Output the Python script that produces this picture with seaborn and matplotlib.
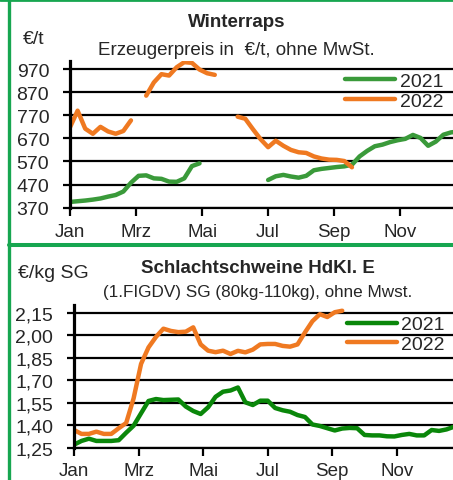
import numpy as np
import pandas as pd
import seaborn as sns
import matplotlib.pyplot as plt
from matplotlib.lines import Line2D

nan = np.nan

# Kalenderwochen, 0 = Anfang Januar
weeks = np.arange(52)
month_labels = ['Jan', 'Mrz', 'Mai', 'Jul', 'Sep', 'Nov']
years = ['2021', '2022']

# Winterraps, Erzeugerpreis in EUR/t
raps_2021 = [395, 398, 401, 405, 410, 418, 425, 440, 478, 508,
             510, 497, 495, 483, 482, 497, 550, 562, nan, nan,
             nan, nan, nan, nan, nan, nan, 490, 506, 512, 505,
             500, 508, 532, 538, 542, 546, 549, 556, 592, 616,
             636, 643, 654, 662, 668, 685, 672, 638, 656, 686,
             696, 700]
raps_2022 = [718, 790, 712, 690, 720, 700, 690, 702, 748, nan,
             855, 912, 948, 942, 978, 1000, 997, 968, 952, 945,
             nan, nan, 764, 755, 710, 667, 632, 660, 638, 620,
             610, 607, 592, 583, 578, 577, 572, 545, nan, nan,
             nan, nan, nan, nan, nan, nan, nan, nan, nan, nan,
             nan, nan]
raps_ticks = [370, 470, 570, 670, 770, 870, 970]

# Schlachtschweine HdKl. E, EUR/kg SG
schwein_2021 = [1.27, 1.295, 1.31, 1.295, 1.295, 1.295, 1.30, 1.35, 1.397, 1.48,
                1.562, 1.575, 1.568, 1.57, 1.572, 1.525, 1.495, 1.475, 1.52, 1.59,
                1.624, 1.632, 1.652, 1.553, 1.535, 1.564, 1.564, 1.515, 1.50, 1.49,
                1.468, 1.455, 1.405, 1.395, 1.38, 1.365, 1.378, 1.382, 1.38, 1.335,
                1.332, 1.332, 1.326, 1.325, 1.335, 1.342, 1.332, 1.332, 1.368, 1.362,
                1.372, 1.39]
schwein_2022 = [1.368, 1.342, 1.342, 1.357, 1.342, 1.342, 1.38, 1.415, 1.58, 1.81,
                1.92, 1.99, 2.045, 2.03, 2.022, 2.025, 2.054, 1.94, 1.898, 1.888,
                1.898, 1.876, 1.897, 1.887, 1.905, 1.94, 1.943, 1.943, 1.93, 1.925,
                1.94, 2.02, 2.095, 2.142, 2.123, 2.155, 2.165, nan, nan, nan,
                nan, nan, nan, nan, nan, nan, nan, nan, nan, nan,
                nan, nan]
schwein_ticks = [1.25, 1.40, 1.55, 1.70, 1.85, 2.00, 2.15]
schwein_ticklabels = ['1,25', '1,40', '1,55', '1,70', '1,85', '2,00', '2,15']

orange = '#EF7921'
border = '#17A650'


def long_df(s21, s22):
    frames = []
    for year, vals in zip(years, (s21, s22)):
        df = pd.DataFrame({'KW': weeks, 'Preis': vals, 'Jahr': year})
        df['seg'] = df['Preis'].isna().cumsum()
        df = df.dropna()
        df['seg'] = year + '_' + df['seg'].astype(str)
        frames.append(df)
    return pd.concat(frames, ignore_index=True)


def draw_panel(ax, df, pal, ticks, ticklabels, ylim, xmax, xpad, leg_xy):
    sns.lineplot(data=df, x='KW', y='Preis', hue='Jahr', units='seg',
                 estimator=None, palette=pal, linewidth=3.2, legend=False,
                 solid_capstyle='round', solid_joinstyle='round', ax=ax)
    ax.set_xlim(0, xmax)
    ax.set_ylim(*ylim)
    ax.set_yticks(ticks)
    ax.set_yticklabels(ticklabels)
    ax.set_xticks(np.arange(0, 12, 2) * 52 / 12)
    ax.set_xticklabels(month_labels)
    ax.set_xlabel('')
    ax.set_ylabel('')
    ax.grid(axis='y', color='black', linewidth=1.6)
    ax.grid(axis='x', visible=False)
    ax.set_axisbelow(True)
    for side in ['top', 'right']:
        ax.spines[side].set_visible(False)
    ax.spines['left'].set_color('black')
    ax.spines['left'].set_linewidth(2.3)
    ax.spines['bottom'].set_color('black')
    ax.spines['bottom'].set_linewidth(1.6)
    ax.tick_params(axis='y', direction='out', length=5, width=1.6,
                   color='black', labelsize=14, pad=10, left=True)
    ax.tick_params(axis='x', direction='out', length=6, width=1.6,
                   color='black', labelsize=13.5, pad=xpad, bottom=True)
    handles = [Line2D([], [], color=pal[y], linewidth=3.2,
                      solid_capstyle='round') for y in years]
    ax.legend(handles, years, loc='center left', bbox_to_anchor=leg_xy,
              bbox_transform=ax.figure.transFigure, frameon=False,
              fontsize=14, handlelength=2.55, handletextpad=0.25,
              labelspacing=0.12, borderpad=0, borderaxespad=0)


sns.set_style('white')
plt.rcParams['font.family'] = ['Liberation Sans', 'DejaVu Sans']

fig = plt.figure(figsize=(4.53, 4.81), dpi=100)

# oberes Feld: Winterraps
ax1 = fig.add_axes([0.1545, 0.5661, 0.8455, 0.3050])
draw_panel(ax1, long_df(raps_2021, raps_2022),
           {'2021': '#3A9A3A', '2022': orange},
           raps_ticks, [str(t) for t in raps_ticks], (370, 1005), 50.26, 5,
           (0.762, 0.809))
fig.text(0.5225, 0.9445, 'Winterraps', ha='center', va='baseline',
         fontsize=13.5, fontweight='bold')
fig.text(0.051, 0.9085, '€/t', ha='left', va='baseline', fontsize=14)
fig.text(0.521, 0.8857, 'Erzeugerpreis in  €/t, ohne MwSt.', ha='center',
         va='baseline', fontsize=13.5)

# unteres Feld: Schlachtschweine
ax2 = fig.add_axes([0.1634, 0.0672, 0.8366, 0.2967])
draw_panel(ax2, long_df(schwein_2021, schwein_2022),
           {'2021': '#0A870A', '2022': orange},
           schwein_ticks, schwein_ticklabels, (1.25, 2.2035), 50.87, 4,
           (0.766, 0.3025))
fig.text(0.5684, 0.4318, 'Schlachtschweine HdKl. E', ha='center',
         va='baseline', fontsize=13.5, fontweight='bold')
fig.text(0.0405, 0.4214, '€/kg SG', ha='left', va='baseline', fontsize=14)
fig.text(0.5684, 0.3832, '(1.FIGDV) SG (80kg-110kg), ohne Mwst.',
         ha='center', va='baseline', fontsize=12.3)

# gruene Rahmenlinien
fig.add_artist(Line2D([0, 1], [1 - 1.3 / 481] * 2, color=border, linewidth=2.0))
fig.add_artist(Line2D([9 / 453] * 2, [0, 1], color=border, linewidth=2.4))
fig.add_artist(Line2D([9 / 453, 1], [1 - 246.3 / 481] * 2, color=border,
                      linewidth=2.9))

fig.savefig('out.png', dpi=100)
